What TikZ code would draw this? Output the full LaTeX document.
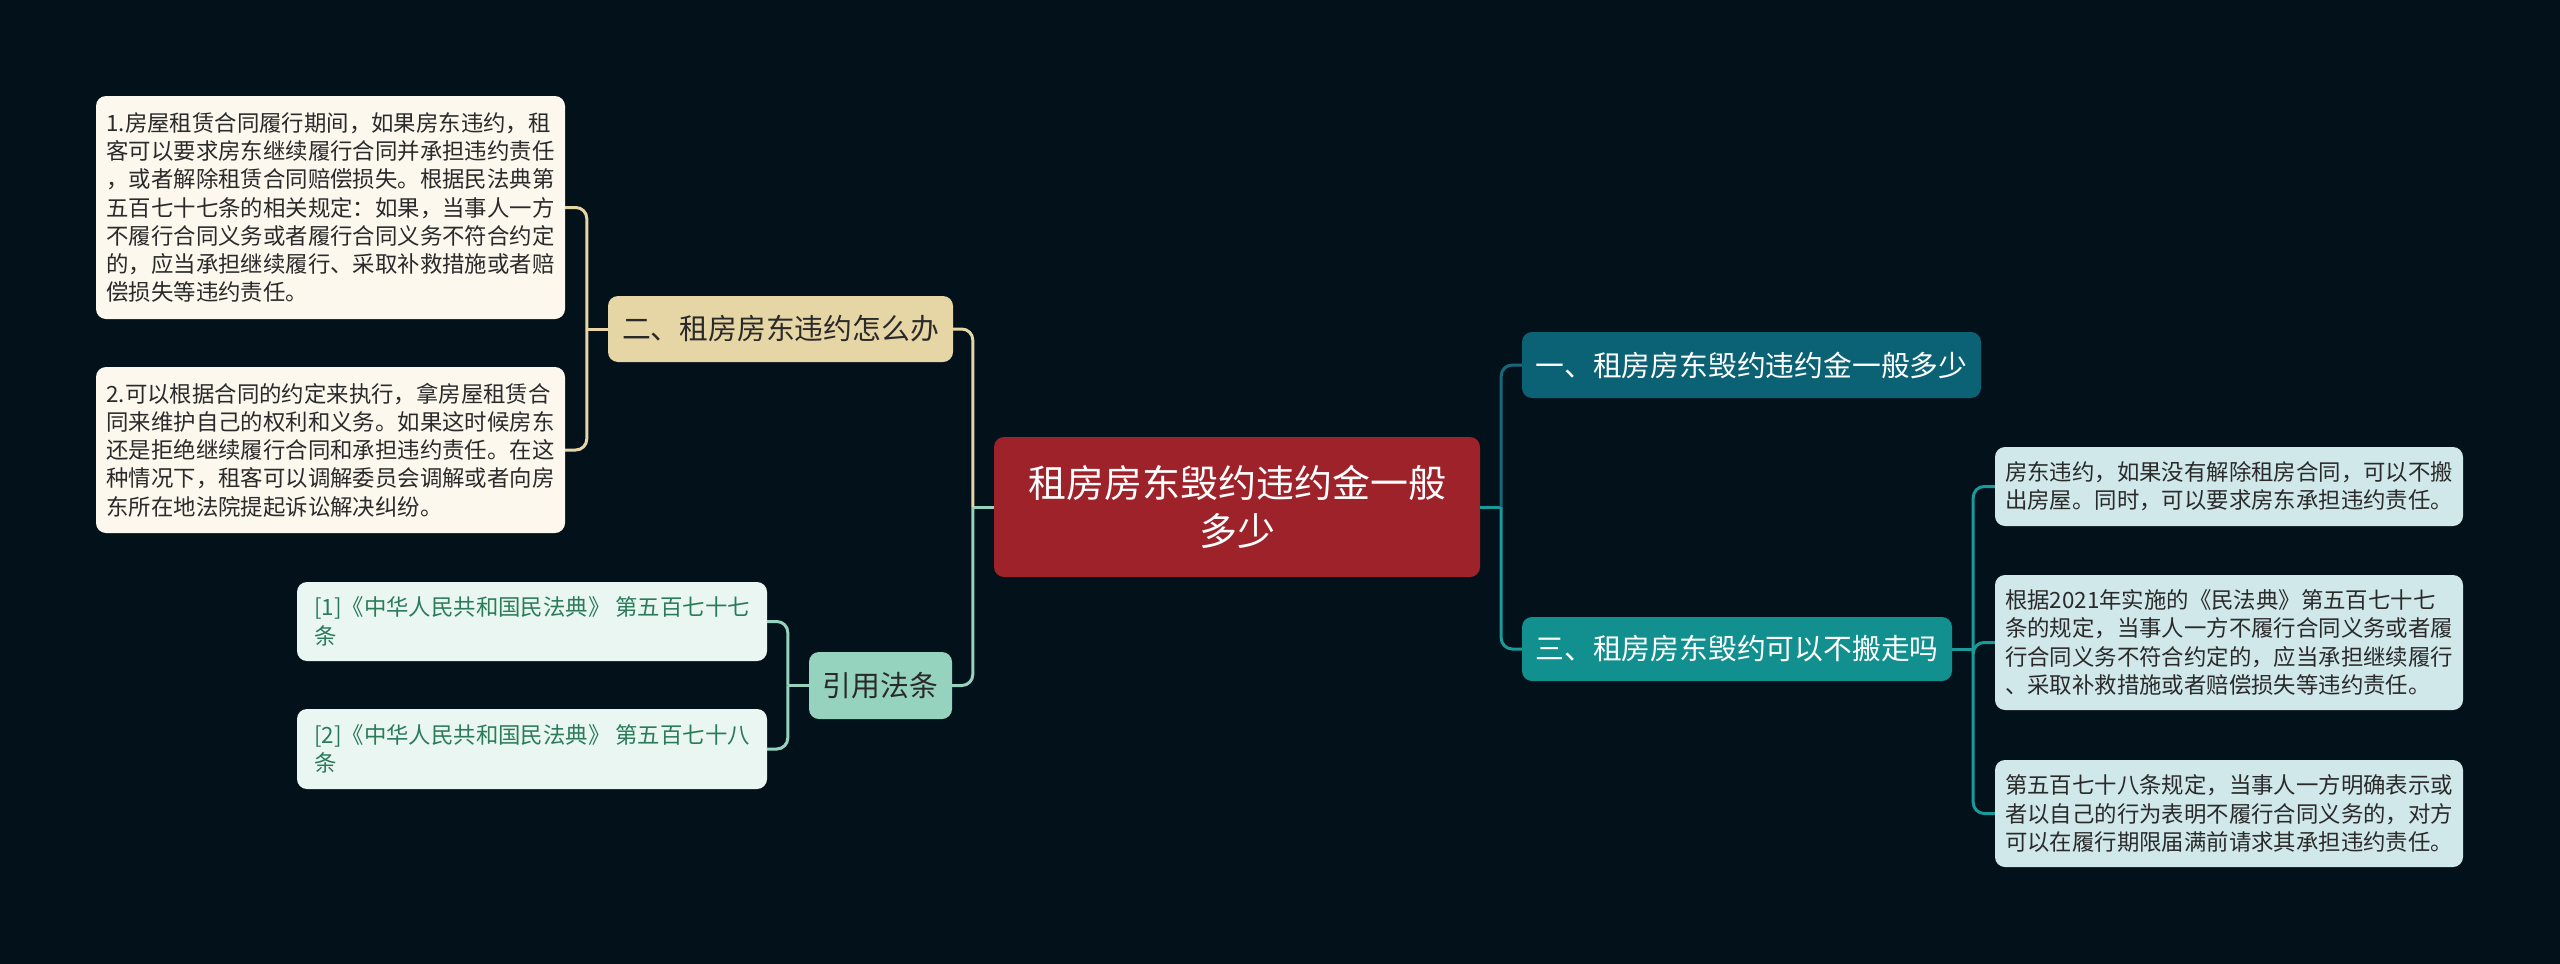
\documentclass[tikz,border=0pt]{standalone}
\usepackage{fontspec}
\setmainfont{Noto Sans CJK SC}
\definecolor{bg}{HTML}{03111A}
\definecolor{cred}{HTML}{9E2229}
\definecolor{tealA}{HTML}{0C6275}
\definecolor{tealB}{HTML}{12908F}
\definecolor{lineA}{HTML}{17697A}
\definecolor{lineB}{HTML}{1A9A9A}
\definecolor{leafR}{HTML}{D0E8EA}
\definecolor{beige}{HTML}{E6D5A5}
\definecolor{cream}{HTML}{FCF8EE}
\definecolor{mint}{HTML}{95D3BF}
\definecolor{refbg}{HTML}{EAF6F2}
\definecolor{reftx}{HTML}{2B7B5B}
\definecolor{dark}{HTML}{2A2A2A}
\begin{document}
\begin{tikzpicture}[x=1pt,y=-1pt,
  box/.style={rounded corners=10pt, inner sep=0pt, align=left},
  central/.style={box, fill=cred, text=white, align=center, font=\fontsize{38}{48}\selectfont},
  branch/.style={box, font=\fontsize{28.8}{34}\selectfont},
  leaf/.style={box, text=dark, font=\fontsize{22.4}{28.3}\selectfont},
  conn/.style={line width=3pt, rounded corners=11pt}
]
\fill[bg] (0,0) rectangle (2560,964);
\useasboundingbox (0,0) rectangle (2560,964);

% nodes
\node[central, minimum width=486, minimum height=140] (c) at (1237,507) {租房房东毁约违约金一般\\多少};
\node[branch, fill=tealA, text=white, minimum width=459, minimum height=66] (b1) at (1751.5,365) {一、租房房东毁约违约金一般多少};
\node[branch, fill=tealB, text=white, minimum width=430, minimum height=64] (b3) at (1737,649) {三、租房房东毁约可以不搬走吗};
\node[branch, fill=beige, text=dark, minimum width=345, minimum height=66] (b2) at (780.5,329) {二、租房房东违约怎么办};
\node[branch, fill=mint, text=dark, minimum width=143, minimum height=67] (ci) at (880.5,685.5) {引用法条};

\node[leaf, fill=leafR, minimum width=468, minimum height=79] (rA) at (2229,486.5) {房东违约，如果没有解除租房合同，可以不搬\\出房屋。同时，可以要求房东承担违约责任。};
\node[leaf, fill=leafR, minimum width=468, minimum height=135] (rB) at (2229,642.5) {根据2021年实施的《民法典》第五百七十七\\条的规定，当事人一方不履行合同义务或者履\\行合同义务不符合约定的，应当承担继续履行\\、采取补救措施或者赔偿损失等违约责任。};
\node[leaf, fill=leafR, minimum width=468, minimum height=107] (rC) at (2229,813.5) {第五百七十八条规定，当事人一方明确表示或\\者以自己的行为表明不履行合同义务的，对方\\可以在履行期限届满前请求其承担违约责任。};

\node[leaf, fill=cream, minimum width=469, minimum height=223] (L1) at (330.5,207.5) {1.房屋租赁合同履行期间，如果房东违约，租\\客可以要求房东继续履行合同并承担违约责任\\，或者解除租赁合同赔偿损失。根据民法典第\\五百七十七条的相关规定：如果，当事人一方\\不履行合同义务或者履行合同义务不符合约定\\的，应当承担继续履行、采取补救措施或者赔\\偿损失等违约责任。};
\node[leaf, fill=cream, minimum width=469, minimum height=166] (L2) at (330.5,450) {2.可以根据合同的约定来执行，拿房屋租赁合\\同来维护自己的权利和义务。如果这时候房东\\还是拒绝继续履行合同和承担违约责任。在这\\种情况下，租客可以调解委员会调解或者向房\\东所在地法院提起诉讼解决纠纷。};

\node[leaf, fill=refbg, text=reftx, minimum width=470, minimum height=79] (f1) at (532,621.5) {[1]《中华人民共和国民法典》 第五百七十七\\条};
\node[leaf, fill=refbg, text=reftx, minimum width=470, minimum height=80] (f2) at (532,749) {[2]《中华人民共和国民法典》 第五百七十八\\条};

% junctions
\path (c.east) -- ++(21,0) coordinate (jR);
\path (c.west) -- ++(-21,0) coordinate (jL);
\path (b3.east) -- ++(21,0) coordinate (j3);
\path (b2.west) -- ++(-21,0) coordinate (j2);
\path (ci.west) -- ++(-21,0) coordinate (jc);

% connectors right
\draw[conn, lineB] (c.east) -- (jR);
\draw[conn, lineA] (jR) |- (b1.west);
\draw[conn, lineB] (jR) |- (b3.west);
\draw[conn, lineB] (b3.east) -- (j3);
\draw[conn, lineB] (j3) |- (rA.west);
\draw[conn, lineB] (j3) |- (rB.west);
\draw[conn, lineB] (j3) |- (rC.west);

% connectors left
\draw[conn, mint] (c.west) -- (jL);
\draw[conn, beige] (jL) |- (b2.east);
\draw[conn, mint] (jL) |- (ci.east);
\draw[conn, beige] (b2.west) -- (j2);
\draw[conn, beige] (j2) |- (L1.east);
\draw[conn, beige] (j2) |- (L2.east);
\draw[conn, mint] (ci.west) -- (jc);
\draw[conn, mint] (jc) |- (f1.east);
\draw[conn, mint] (jc) |- (f2.east);
\end{tikzpicture}
\end{document}
